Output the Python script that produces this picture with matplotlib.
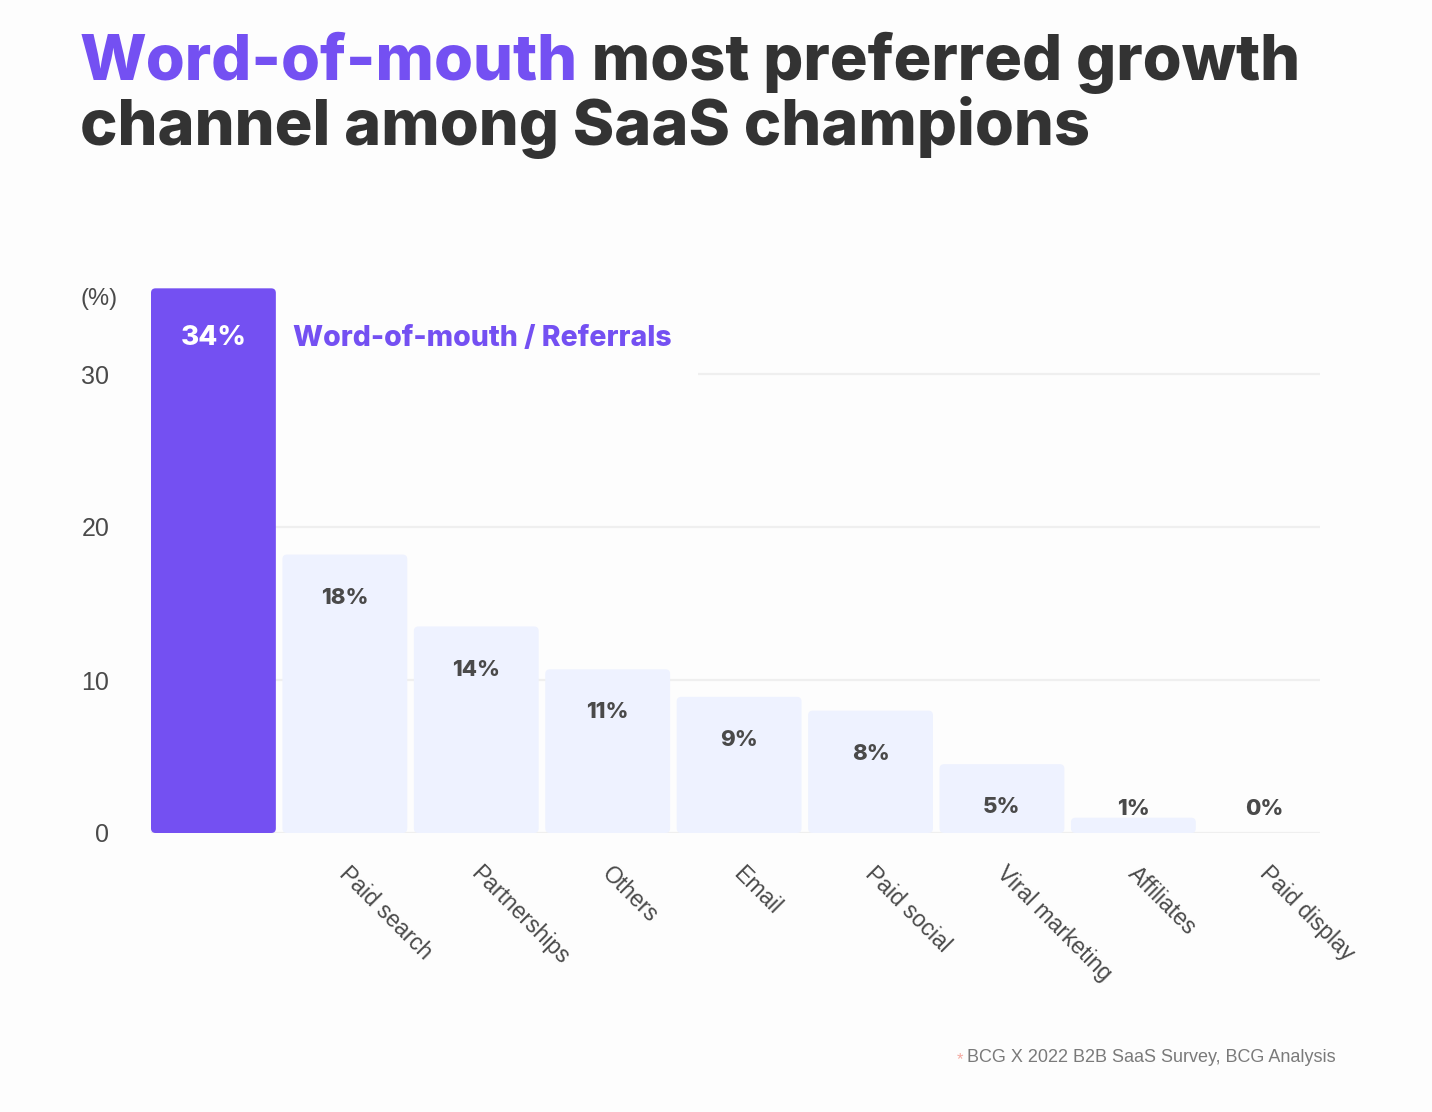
import numpy as np
import matplotlib
matplotlib.use("Agg")
import matplotlib.pyplot as plt
import matplotlib.transforms as mtransforms
from matplotlib.patches import FancyBboxPatch

# Datos
categorias = ["Word-of-mouth / Referrals", "Paid search", "Partnerships", "Others",
              "Email", "Paid social", "Viral marketing", "Affiliates", "Paid display"]
alturas = [35.6, 18.2, 13.5, 10.7, 8.9, 8.0, 4.5, 1.0, 0.0]
etiquetas = ["34%", "18%", "14%", "11%", "9%", "8%", "5%", "1%", "0%"]
ticks_y = [0, 10, 20, 30]

PURPURA = "#7450F2"
CLARO = "#EEF2FF"
OSCURO = "#333333"
GRIS = "#4a4a4a"
FONDO = "#FDFDFD"
GRID = "#EFEFEF"
BOLD = "Inter"
REG = "Liberation Sans"

W, H = 1432, 1112
fig = plt.figure(figsize=(W / 100, H / 100), dpi=100)
fig.patch.set_facecolor(FONDO)

# ejes colocados en píxeles
x0, x1 = 151, 1320
y_base, px_unidad = 833, 15.3
ymax = 36
ax = fig.add_axes([x0 / W, (H - y_base) / H, (x1 - x0) / W, ymax * px_unidad / H])
ax.set_facecolor(FONDO)
ax.set_xlim(-0.475, 8.42)
ax.set_ylim(0, ymax)

for s in ax.spines.values():
    s.set_visible(False)

# líneas de referencia
for t in ticks_y:
    ax.axhline(t, color=GRID, lw=1.6, zorder=0)

x = np.arange(len(categorias))
colores = [PURPURA] + [CLARO] * (len(categorias) - 1)
barras = ax.bar(x, alturas, width=0.95, color=colores, zorder=2)

# esquinas redondeadas
asp = (1 / px_unidad) / ((8.42 + 0.475) / (x1 - x0))
for r in barras:
    if r.get_height() <= 0:
        continue
    r.set_visible(False)
    p = FancyBboxPatch((r.get_x(), r.get_y()), r.get_width(), r.get_height(),
                       boxstyle="round,pad=0,rounding_size=0.035",
                       mutation_aspect=asp, fc=r.get_facecolor(), ec="none", zorder=2)
    ax.add_patch(p)

# etiquetas de valor
for i, (h, lab) in enumerate(zip(alturas, etiquetas)):
    if i == 0:
        ax.annotate(lab, (i, h), xytext=(0, -36), textcoords="offset points",
                    ha="center", va="center", color="white", fontsize=20,
                    fontweight="heavy", family=BOLD, zorder=3)
    else:
        ax.annotate(lab, (i, max(h, 4.4)), xytext=(0, -31), textcoords="offset points",
                    ha="center", va="center", color=GRIS, fontsize=16,
                    fontweight="heavy", family=BOLD, zorder=3)

# rótulo de la primera barra (la caja tapa la línea de 30, queda bajo las barras)
ax.annotate(categorias[0], (0.475, alturas[0]), xytext=(12, -36), textcoords="offset points",
            ha="left", va="center", color=PURPURA, fontsize=20.5, fontweight="heavy",
            family=BOLD, zorder=1,
            bbox=dict(boxstyle="square,pad=0.95", fc=FONDO, ec="none"))

# ejes
ax.set_yticks(ticks_y)
ax.set_yticklabels([str(t) for t in ticks_y], family=REG, fontsize=18, color=GRIS)
ax.tick_params(axis="y", length=0, pad=30)
ax.set_xticks(x)
ax.set_xticklabels([""] + categorias[1:], rotation=-45, ha="left",
                   rotation_mode="anchor", family=REG, fontsize=16.5, color=GRIS)
ax.tick_params(axis="x", length=0, pad=21)
desplaza = mtransforms.ScaledTranslation(6 / 100, 0, fig.dpi_scale_trans)
for lab in ax.get_xticklabels():
    lab.set_transform(lab.get_transform() + desplaza)

ax.annotate("(%)", (0, 1), xycoords="axes fraction", xytext=(-51, -12),
            textcoords="offset points", ha="left", va="center",
            family=REG, fontsize=17, color=GRIS)

# título en dos colores
fig.canvas.draw()
rend = fig.canvas.get_renderer()
tsize = 45.4
t1 = fig.text(80 / W, 1 - 80 / H, "Word-of-mouth", color=PURPURA, fontsize=tsize,
              fontweight="heavy", family=BOLD, va="baseline", ha="left")
bb = t1.get_window_extent(rend)
fig.text(bb.x1 / W, 1 - 80 / H, " most preferred growth", color=OSCURO, fontsize=tsize,
         fontweight="heavy", family=BOLD, va="baseline", ha="left")
fig.text(80 / W, 1 - 145 / H, "channel among SaaS champions", color=OSCURO, fontsize=tsize,
         fontweight="heavy", family=BOLD, va="baseline", ha="left")

# nota de fuente
n = fig.text(1336 / W, 1 - 1057 / H, "BCG X 2022 B2B SaaS Survey, BCG Analysis",
             color="#7a7a7a", fontsize=13, family=REG, ha="right", va="center")
bn = n.get_window_extent(rend)
fig.text((bn.x0 - 4) / W, 1 - 1060 / H, "*", color="#F4A9A0", fontsize=12,
         family=REG, ha="right", va="center")

fig.savefig("out.png", dpi=100, facecolor=FONDO)
